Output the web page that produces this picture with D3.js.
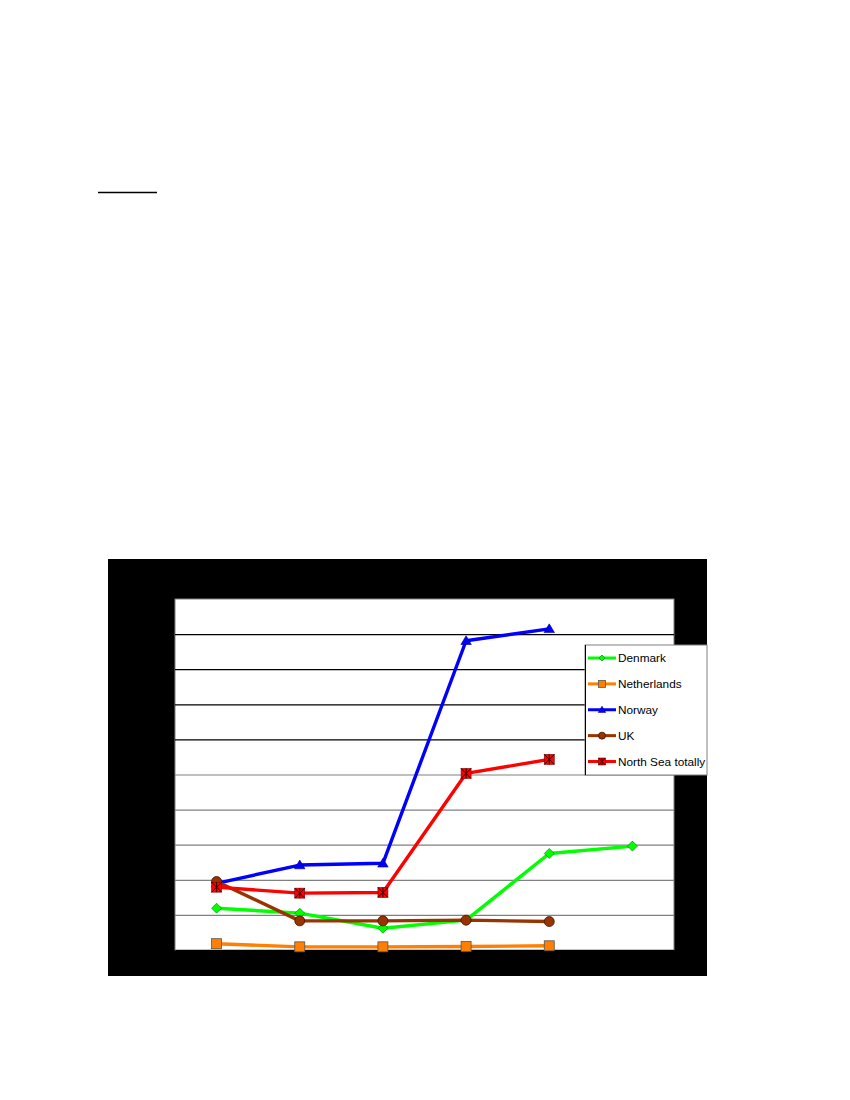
<!DOCTYPE html>
<html>
<head>
<meta charset="utf-8">
<script src="https://cdn.jsdelivr.net/npm/d3@7"></script>
<style>
  body { margin: 0; background: #fff; }
  svg { display: block; }
</style>
</head>
<body>
<div id="chart"></div>
<script>
// Category slots along the x axis (labels are not legible in the picture).
const categories = ["c1", "c2", "c3", "c4", "c5", "c6"];

// Series values on a 0-100 scale.
const denmark = [11.9, 10.5, 6.2, 8.5, 27.5, 29.6];
const netherlands = [1.8, 0.9, 0.9, 1.0, 1.2, null];
const norway = [19.0, 24.2, 24.7, 88.1, 91.5, null];
const uk = [19.5, 8.3, 8.3, 8.5, 8.1, null];
const northSea = [17.9, 16.2, 16.4, 50.3, 54.3, null];

const seriesNames = ["Denmark", "Netherlands", "Norway", "UK", "North Sea totally"];
const seriesValues = [denmark, netherlands, norway, uk, northSea];
const yTicks = [0, 10, 20, 30, 40, 50, 60, 70, 80, 90, 100];

const colors = ["#00ff00", "#ff7f00", "#0000ff", "#993300", "#ff0000"];
const shapes = ["diamond", "square", "triangle", "circle", "xsquare"];

const width = 850;
const height = 1100;
const frame = {left: 108, top: 559, right: 707, bottom: 976};
const plot = {left: 175, top: 599, right: 674, bottom: 950};

const svg = d3.select("#chart").append("svg")
    .attr("width", width)
    .attr("height", height);

// Underline left in the text above the chart.
svg.append("line")
    .attr("x1", 98).attr("x2", 157)
    .attr("y1", 192.5).attr("y2", 192.5)
    .attr("stroke", "#000")
    .attr("stroke-width", 1.3);

// Black chart area.
svg.append("rect")
    .attr("x", frame.left).attr("y", frame.top)
    .attr("width", frame.right - frame.left)
    .attr("height", frame.bottom - frame.top)
    .attr("fill", "#000");

// White plot area.
svg.append("rect")
    .attr("x", plot.left).attr("y", plot.top)
    .attr("width", plot.right - plot.left)
    .attr("height", plot.bottom - plot.top)
    .attr("fill", "#fff")
    .attr("stroke", "#808080")
    .attr("stroke-width", 1);

const x = d3.scaleBand()
    .domain(categories)
    .range([plot.left, plot.right]);
const cx = (i) => x(categories[i]) + x.bandwidth() / 2;

const y = d3.scaleLinear()
    .domain([0, 100])
    .range([plot.bottom, plot.top]);

// Gridlines: upper ones print black, lower ones grey.
const grid = svg.append("g")
    .attr("transform", `translate(${plot.left},0)`)
    .call(d3.axisLeft(y)
        .tickValues(yTicks.filter((t) => t > 0 && t < 100))
        .tickSize(-(plot.right - plot.left))
        .tickFormat(""));
grid.select(".domain").remove();
grid.selectAll(".tick line")
    .attr("stroke", (d) => d > 50 ? "#000" : "#808080")
    .attr("stroke-width", 1.2);

// Category ticks along the bottom.
const xAxis = svg.append("g")
    .attr("transform", `translate(0,${plot.bottom})`)
    .call(d3.axisBottom(x).tickSize(0).tickFormat(""));
xAxis.select(".domain").attr("stroke", "#000");

function drawMarker(g, shape, color, px, py, s) {
    if (shape === "circle") {
        g.append("circle")
            .attr("cx", px).attr("cy", py).attr("r", s)
            .attr("fill", color).attr("stroke", "#3a1500").attr("stroke-width", 0.8);
    } else if (shape === "diamond") {
        g.append("path")
            .attr("d", `M${px},${py - s}L${px + s},${py}L${px},${py + s}L${px - s},${py}Z`)
            .attr("fill", color).attr("stroke", "#1a6a1a").attr("stroke-width", 0.6);
    } else if (shape === "square") {
        g.append("rect")
            .attr("x", px - s).attr("y", py - s)
            .attr("width", 2 * s).attr("height", 2 * s)
            .attr("fill", color).attr("stroke", "#555").attr("stroke-width", 0.8);
    } else if (shape === "triangle") {
        g.append("path")
            .attr("d", `M${px},${py - s}L${px + s * 1.05},${py + s * 0.75}L${px - s * 1.05},${py + s * 0.75}Z`)
            .attr("fill", color).attr("stroke", "#000080").attr("stroke-width", 0.6);
    } else if (shape === "xsquare") {
        g.append("rect")
            .attr("x", px - s).attr("y", py - s)
            .attr("width", 2 * s).attr("height", 2 * s)
            .attr("fill", color).attr("stroke", "#800000").attr("stroke-width", 0.6);
        g.append("path")
            .attr("d", `M${px - s},${py - s}L${px + s},${py + s}M${px + s},${py - s}L${px - s},${py + s}M${px},${py - s}L${px},${py + s}`)
            .attr("stroke", "#000").attr("stroke-width", 0.8).attr("fill", "none");
    }
}

const line = d3.line()
    .defined((d) => d != null)
    .x((d, i) => cx(i))
    .y((d) => y(d));

seriesValues.forEach((values, k) => {
    const g = svg.append("g");
    g.append("path")
        .attr("d", line(values))
        .attr("fill", "none")
        .attr("stroke", colors[k])
        .attr("stroke-width", 3.4)
        .attr("stroke-linejoin", "round");
    values.forEach((v, i) => {
        if (v == null) return;
        drawMarker(g, shapes[k], colors[k], cx(i), y(v), 5);
    });
});

// Legend.
const legend = {left: 585, top: 645, right: 707, bottom: 775};
svg.append("rect")
    .attr("x", legend.left).attr("y", legend.top)
    .attr("width", legend.right - legend.left)
    .attr("height", legend.bottom - legend.top)
    .attr("fill", "#fff")
    .attr("stroke", "#808080")
    .attr("stroke-width", 1);
svg.append("line")
    .attr("x1", legend.left + 0.5).attr("x2", legend.left + 0.5)
    .attr("y1", legend.top).attr("y2", legend.bottom)
    .attr("stroke", "#000");

const ly = d3.scalePoint()
    .domain(seriesNames)
    .range([658, 761.5]);

seriesNames.forEach((name, k) => {
    const g = svg.append("g");
    const yy = ly(name);
    g.append("line")
        .attr("x1", 588).attr("x2", 616)
        .attr("y1", yy).attr("y2", yy)
        .attr("stroke", colors[k])
        .attr("stroke-width", 3);
    drawMarker(g, shapes[k], colors[k], 602, yy, shapes[k] === "diamond" ? 3 : 3.5);
    g.append("text")
        .attr("x", 618)
        .attr("y", yy + 4)
        .attr("font-family", "Liberation Sans, Arial, sans-serif")
        .attr("font-size", 11.8)
        .attr("fill", "#000")
        .text(name);
});
</script>
</body>
</html>
